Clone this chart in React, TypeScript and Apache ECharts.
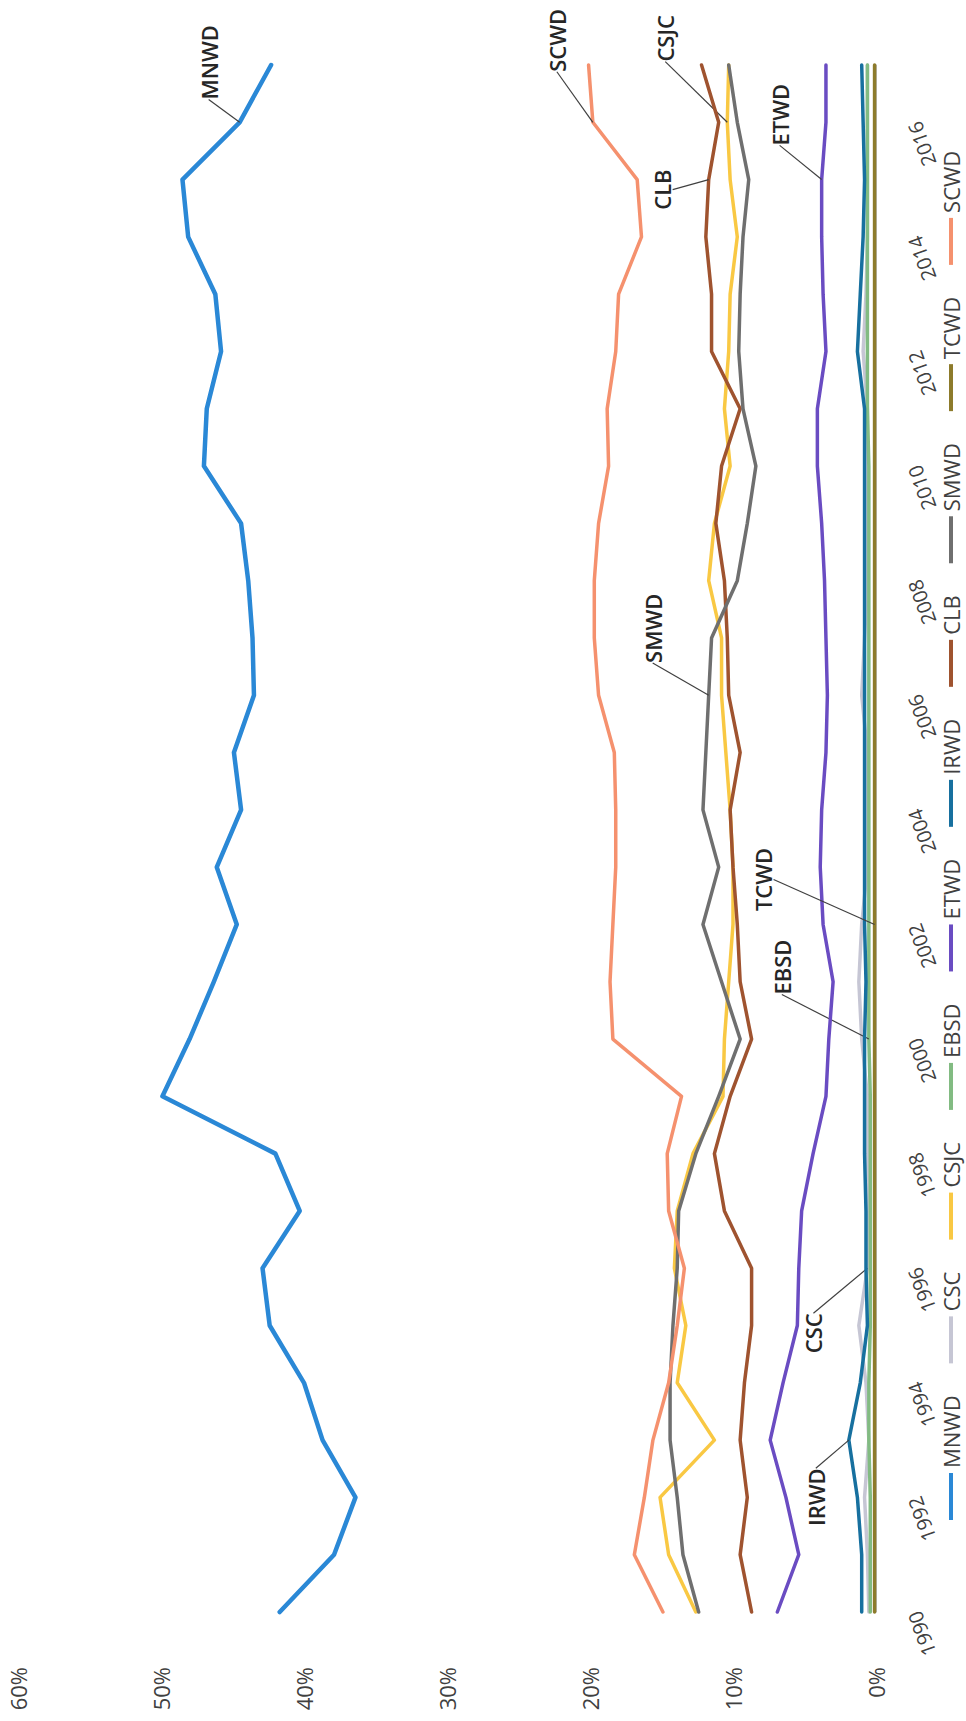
import React, { useEffect, useRef } from "react";
import * as echarts from "echarts";

// ---------- data ----------
const years = [
  "1990", "1991", "1992", "1993", "1994", "1995", "1996", "1997", "1998", "1999",
  "2000", "2001", "2002", "2003", "2004", "2005", "2006", "2007", "2008", "2009",
  "2010", "2011", "2012", "2013", "2014", "2015", "2016", "2017",
];

const MNWD = [41.7, 37.9, 36.4, 38.7, 40.0, 42.4, 42.9, 40.3, 42.0, 49.9, 48.0, 46.3, 44.7, 46.1, 44.4, 44.9, 43.5, 43.6, 43.9, 44.4, 47.0, 46.8, 45.8, 46.2, 48.1, 48.5, 44.5, 42.3];
const CSC = [0.5, 0.6, 0.8, 0.5, 0.7, 1.2, 0.6, 0.5, 0.6, 0.6, 1.0, 1.2, 1.0, 0.6, 0.6, 0.6, 1.0, 0.8, 0.6, 0.6, 0.6, 0.6, 0.9, 0.7, 0.6, 0.6, 0.6, 0.6];
const CSJC = [12.6, 14.5, 15.1, 11.3, 13.9, 13.3, 14.1, 13.9, 12.8, 10.7, 10.6, 10.3, 10.0, 10.0, 10.2, 10.5, 10.8, 10.8, 11.7, 11.3, 10.2, 10.6, 10.3, 10.2, 9.7, 10.2, 10.4, 10.3];
const EBSD = [0.4, 0.4, 0.4, 0.5, 0.5, 0.4, 0.4, 0.4, 0.4, 0.4, 0.5, 0.5, 0.5, 0.5, 0.5, 0.5, 0.5, 0.5, 0.5, 0.5, 0.5, 0.6, 0.6, 0.6, 0.6, 0.6, 0.6, 0.6];
const ETWD = [6.9, 5.4, 6.3, 7.4, 6.5, 5.5, 5.4, 5.2, 4.4, 3.5, 3.3, 3.0, 3.7, 3.9, 3.8, 3.5, 3.4, 3.5, 3.6, 3.8, 4.1, 4.1, 3.5, 3.7, 3.8, 3.8, 3.5, 3.5];
const IRWD = [1.0, 1.0, 1.3, 1.9, 1.1, 0.6, 0.7, 0.7, 0.8, 0.8, 0.8, 0.7, 0.8, 0.8, 0.8, 0.8, 0.8, 0.8, 0.8, 0.8, 0.8, 0.8, 1.3, 1.1, 0.9, 0.8, 0.9, 1.0];
const CLB = [8.7, 9.5, 9.0, 9.5, 9.2, 8.7, 8.7, 10.6, 11.3, 10.2, 8.7, 9.5, 9.7, 10.0, 10.2, 9.5, 10.3, 10.4, 10.6, 11.2, 10.8, 9.5, 11.5, 11.5, 11.9, 11.7, 11.0, 12.2];
const SMWD = [12.4, 13.5, 13.9, 14.4, 14.4, 14.2, 13.9, 13.8, 12.6, 11.0, 9.5, 10.8, 12.1, 11.0, 12.1, 11.9, 11.7, 11.5, 9.7, 9.0, 8.4, 9.3, 9.6, 9.5, 9.3, 8.9, 9.7, 10.3];
const TCWD = [0.1, 0.1, 0.1, 0.1, 0.1, 0.1, 0.1, 0.1, 0.1, 0.1, 0.1, 0.1, 0.1, 0.1, 0.1, 0.1, 0.1, 0.1, 0.1, 0.1, 0.1, 0.1, 0.1, 0.1, 0.1, 0.1, 0.1, 0.1];
const SCWD = [14.9, 16.9, 16.2, 15.6, 14.5, 13.9, 13.4, 14.5, 14.6, 13.6, 18.4, 18.6, 18.4, 18.2, 18.2, 18.3, 19.4, 19.7, 19.7, 19.4, 18.7, 18.8, 18.2, 18.0, 16.4, 16.7, 19.8, 20.1];

const seriesNames = ["MNWD", "CSC", "CSJC", "EBSD", "ETWD", "IRWD", "CLB", "SMWD", "TCWD", "SCWD"];
const seriesValues = [MNWD, CSC, CSJC, EBSD, ETWD, IRWD, CLB, SMWD, TCWD, SCWD];
const calloutYears = ["2016", "1996", "2016", "2000", "2015", "1993", "2015", "2006", "2002", "2016"];

const valueMin = 0;
const valueMax = 60;
const valueStep = 10;

// ---------- styles / layout ----------
const COLORS = ["#2a88d6", "#c6c6d4", "#f9c843", "#82bb82", "#6a4cc2", "#17709f", "#9f532f", "#6f6f6f", "#8d7b2b", "#f5916e"];
const WIDTHS = [4.5, 3.5, 3.5, 3.5, 3.5, 3.5, 3.5, 3.5, 3.5, 3.5];
const CALLOUT_OFFSETS = [
  [60, -31],
  [-65, -54],
  [84, -62],
  [72, -87],
  [65, -42],
  [-57, -33],
  [-10, -47],
  [67, -56],
  [45, -112],
  [82, -36],
];

const FONT = "'Open Sans', 'Noto Sans', sans-serif";
const PAGE_W = 966;
const PAGE_H = 1721;

export default function App() {
  const ref = useRef<HTMLDivElement>(null);

  useEffect(() => {
    if (!ref.current) return;
    const chart = echarts.init(ref.current, undefined, { renderer: "svg" });
    const series = seriesNames.map((name, si) => {
      const cy = calloutYears[si];
      const [dx, dy] = CALLOUT_OFFSETS[si];
      return {
        type: "line",
        name,
        data: seriesValues[si].map((v, i) =>
          years[i] === cy ? { value: v, label: { show: true } } : v
        ),
        symbol: "circle",
        symbolSize: 0.01,
        showSymbol: true,
        showAllSymbol: true,
        itemStyle: { color: COLORS[si] },
        lineStyle: { color: COLORS[si], width: WIDTHS[si], join: "round", cap: "round" },
        label: {
          show: false,
          position: "inside",
          formatter: name,
          fontSize: 22,
          fontWeight: 600,
          color: "#262626",
          fontFamily: FONT,
        },
        labelLayout: { dx, dy },
        labelLine: { show: true, lineStyle: { color: "#404040", width: 1.2 } },
        emphasis: { disabled: true },
        z: 2 + si,
      };
    });

    chart.setOption({
      animation: false,
      backgroundColor: "#ffffff",
      textStyle: { fontFamily: FONT },
      grid: { left: 109, right: 65, top: 18, bottom: 90, containLabel: false },
      legend: {
        data: seriesNames,
        left: 196,
        top: 934,
        orient: "horizontal",
        icon: "rect",
        itemWidth: 47,
        itemHeight: 4,
        itemGap: 32,
        textStyle: { fontSize: 22, color: "#404040", fontFamily: FONT, lineHeight: 24 },
      },
      xAxis: {
        type: "category",
        data: years,
        boundaryGap: false,
        axisLine: { show: true, lineStyle: { color: "#bfbfbf", width: 1 } },
        axisTick: { show: false },
        axisLabel: {
          interval: 1,
          rotate: 20,
          margin: 38,
          fontSize: 20,
          color: "#404040",
          fontFamily: FONT,
        },
        splitLine: { show: false },
      },
      yAxis: {
        type: "value",
        min: valueMin,
        max: valueMax,
        interval: valueStep,
        axisLabel: {
          formatter: "{value}%",
          margin: 55,
          fontSize: 22,
          color: "#404040",
          fontFamily: FONT,
        },
        axisLine: { show: false },
        axisTick: { show: false },
        splitLine: { show: false },
      },
      series,
    } as any);

    return () => chart.dispose();
  }, []);

  return (
    <div
      style={{
        position: "fixed",
        left: 0,
        top: 0,
        width: PAGE_W,
        height: PAGE_H,
        overflow: "hidden",
        background: "#ffffff",
      }}
    >
      <div
        ref={ref}
        style={{
          position: "absolute",
          left: 0,
          top: 0,
          width: PAGE_H,
          height: PAGE_W,
          transformOrigin: "0 0",
          transform: `translate(0px, ${PAGE_H}px) rotate(-90deg)`,
        }}
      />
    </div>
  );
}
